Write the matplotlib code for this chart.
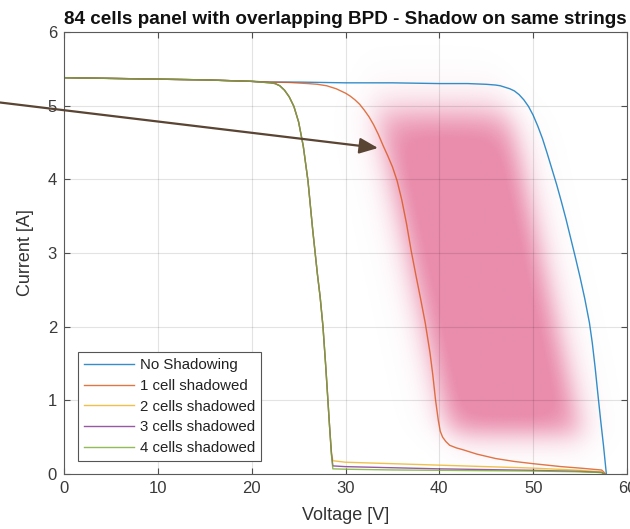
import numpy as np
import matplotlib
matplotlib.use("Agg")
import matplotlib.pyplot as plt
from matplotlib.patches import FancyArrowPatch

plt.rcParams['font.family'] = ['Liberation Sans', 'DejaVu Sans']

# ---------------- data ----------------
title = "84 cells panel with overlapping BPD - Shadow on same strings"
series_labels = ["No Shadowing", "1 cell shadowed", "2 cells shadowed",
                 "3 cells shadowed", "4 cells shadowed"]
x_ticks = [0, 10, 20, 30, 40, 50, 60]
y_ticks = [0, 1, 2, 3, 4, 5, 6]

v_none = [0, 5, 10, 15, 20, 22, 25, 30, 35, 40, 43, 45, 46, 46.5, 47, 47.5,
          48, 48.5, 49, 49.5, 50, 50.5, 51, 51.5, 52, 52.5, 53, 53.5, 54,
          54.5, 55, 55.5, 56, 56.3, 56.6, 56.9, 57.2, 57.5, 57.8]
i_none = [5.38, 5.37, 5.36, 5.35, 5.33, 5.32, 5.32, 5.31, 5.31, 5.30, 5.30,
          5.29, 5.28, 5.27, 5.25, 5.23, 5.20, 5.15, 5.08, 4.99, 4.87, 4.72,
          4.55, 4.35, 4.14, 3.93, 3.70, 3.46, 3.20, 2.94, 2.67, 2.38, 2.05,
          1.78, 1.45, 1.08, 0.72, 0.38, 0.0]

v_one = [0, 5, 10, 15, 20, 22, 24, 26, 27, 28, 29, 30, 30.5, 31, 31.5, 32,
         32.5, 33, 33.5, 34, 34.5, 35, 35.5, 36, 36.5, 37, 37.5, 38, 38.5,
         39, 39.3, 39.6, 39.9, 40.1, 40.35, 40.7, 41.1, 41.8, 42.5, 44, 46,
         48, 50, 53, 55, 57.3, 57.5, 57.7]
i_one = [5.38, 5.37, 5.36, 5.35, 5.33, 5.32, 5.315, 5.30, 5.29, 5.27, 5.23,
         5.17, 5.13, 5.08, 5.02, 4.94, 4.85, 4.74, 4.61, 4.46, 4.32, 4.17,
         3.98, 3.72, 3.40, 3.03, 2.70, 2.38, 2.05, 1.65, 1.35, 1.00, 0.72,
         0.58, 0.50, 0.44, 0.39, 0.355, 0.33, 0.27, 0.21, 0.17, 0.14, 0.10,
         0.08, 0.054, 0.03, 0.0]

v_multi = [0, 5, 10, 15, 20, 22, 22.5, 23, 23.5, 24, 24.5, 25, 25.5, 26, 26.5,
           27, 27.3, 27.6, 27.9, 28.1, 28.3, 28.5, 28.65, 30, 35, 40, 45, 50,
           55, 57.3, 57.6]
i_two = [5.38, 5.37, 5.36, 5.35, 5.33, 5.31, 5.30, 5.27, 5.21, 5.12, 4.99,
         4.78, 4.45, 3.98, 3.32, 2.72, 2.40, 2.00, 1.45, 1.05, 0.65, 0.30,
         0.18, 0.16, 0.14, 0.12, 0.10, 0.08, 0.05, 0.03, 0.0]
i_three = [5.38, 5.37, 5.36, 5.35, 5.33, 5.31, 5.30, 5.27, 5.21, 5.12, 4.99,
           4.78, 4.45, 3.98, 3.32, 2.72, 2.40, 2.00, 1.45, 1.05, 0.65, 0.28,
           0.11, 0.10, 0.085, 0.07, 0.06, 0.05, 0.035, 0.02, 0.0]
i_four = [5.38, 5.37, 5.36, 5.35, 5.33, 5.31, 5.30, 5.27, 5.21, 5.12, 4.99,
          4.78, 4.45, 3.98, 3.32, 2.72, 2.40, 2.00, 1.45, 1.05, 0.65, 0.26,
          0.07, 0.065, 0.055, 0.05, 0.045, 0.04, 0.03, 0.02, 0.0]

colors = ["#0072BD", "#D95319", "#EDB120", "#7E2F8E", "#77AC30"]

# ---------------- figure ----------------
fig = plt.figure(figsize=(6.3, 5.29), dpi=100)
ax = fig.add_axes([64/630, 55/529, 563/630, 442/529])

# pink highlight (soft blurred band)
gv = np.linspace(24, 62, 600)
gi = np.linspace(0, 6, 500)
GV, GI = np.meshgrid(gv, gi)
def sig(x):
    return 1.0 / (1.0 + np.exp(-1.7 * x))
center = 42.0 + 1.75 * (4.0 - GI)
u = GV - center
hw, sv = 7.0, 1.6
alpha = (sig((u + hw) / sv) * sig((hw - u) / sv)
         * sig((GI - 0.55) / 0.2) * sig((4.9 - GI) / 0.28))
rgba = np.zeros(GV.shape + (4,))
rgba[..., 0] = 233/255
rgba[..., 1] = 136/255
rgba[..., 2] = 169/255
rgba[..., 3] = np.clip(alpha * 1.08, 0, 0.96)
ax.imshow(rgba, extent=[24, 62, 0, 6], origin='lower', aspect='auto',
          zorder=0.3, interpolation='bilinear')

lw = 1.0
ax.plot(v_none, i_none, color=colors[0], lw=lw, alpha=0.8, label=series_labels[0])
ax.plot(v_one, i_one, color=colors[1], lw=lw, alpha=0.8, label=series_labels[1])
ax.plot(v_multi, i_two, color=colors[2], lw=lw, alpha=0.8, label=series_labels[2])
ax.plot(v_multi, i_three, color=colors[3], lw=lw, alpha=0.8, label=series_labels[3])
ax.plot(v_multi, i_four, color=colors[4], lw=lw, alpha=0.8, label=series_labels[4])

ax.set_xlim(0, 60)
ax.set_ylim(0, 6)
ax.set_xticks(x_ticks)
ax.set_yticks(y_ticks)
ax.set_axisbelow(True)
ax.grid(True, color='k', alpha=0.11, lw=0.8)
ax.tick_params(direction='in', top=True, right=True, length=4, width=0.8,
               labelsize=12, colors='#4d4d4d', labelcolor='#3a3a3a', pad=5)
for s in ax.spines.values():
    s.set_color('#5a5a5a')
    s.set_linewidth(0.8)

ax.set_xlabel("Voltage [V]", fontsize=13, color='#333333', labelpad=8)
ax.set_ylabel("Current [A]", fontsize=13, color='#333333', labelpad=10)
ax.set_title(title, fontsize=13.6, fontweight='bold', color='#111111', pad=6)

leg = ax.legend(loc='lower left', bbox_to_anchor=(0.025, 0.029), fontsize=10.8,
                frameon=True, fancybox=False, framealpha=1, edgecolor='#555555',
                handlelength=3.3, handletextpad=0.4, labelspacing=0.45,
                borderpad=0.4, borderaxespad=0)
leg.get_frame().set_linewidth(0.8)
for t in leg.get_texts():
    t.set_color('#222222')

arrow = FancyArrowPatch((0/630, 1 - 102.5/529), (378/630, 1 - 148/529),
                        transform=fig.transFigure,
                        arrowstyle='-|>,head_length=0.75,head_width=0.32',
                        mutation_scale=15, color='#5a4433', lw=1.6,
                        shrinkA=0, shrinkB=0)
fig.add_artist(arrow)

fig.savefig("out.png", dpi=100)
